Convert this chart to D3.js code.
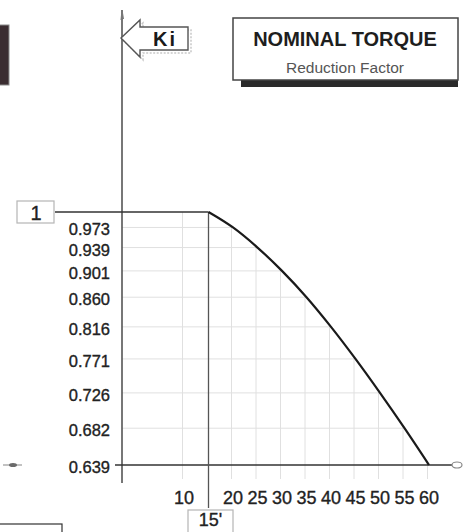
<!DOCTYPE html>
<html>
<head>
<meta charset="utf-8">
<script src="https://cdn.jsdelivr.net/npm/d3@7"></script>
<style>
  html, body { margin: 0; padding: 0; background: #fff; }
  svg { display: block; }
  .num { font-family: "Liberation Sans Narrow", "Arial Narrow", "Liberation Sans", Arial, sans-serif; fill: #222; stroke: #222; stroke-width: 0.35; }
</style>
</head>
<body>
<svg id="chart" width="465" height="532"></svg>
<script>
// Minutes of operation and the matching reduction factor Ki
const minutes = [15, 20, 25, 30, 35, 40, 45, 50, 55, 60];
const ki = [1, 0.973, 0.939, 0.901, 0.860, 0.816, 0.771, 0.726, 0.682, 0.639];
const xTickValues = [10, 20, 25, 30, 35, 40, 45, 50, 55, 60];
const yTickValues = [0.973, 0.939, 0.901, 0.860, 0.816, 0.771, 0.726, 0.682, 0.639];
const yTickLabels = ["0.973", "0.939", "0.901", "0.860", "0.816", "0.771", "0.726", "0.682", "0.639"];
const startMinute = 15;
const topValue = 1;
const titleText = "NOMINAL TORQUE";
const subtitleText = "Reduction Factor";
const axisName = "Ki";

const points = minutes.map((m, i) => ({ m, v: ki[i] }));

const svg = d3.select("#chart");

const x = d3.scaleLinear().domain([15, 60]).range([208.5, 429]);
const y = d3.scaleLog().domain([0.639, 1]).range([465, 212]);

const axisX = 122;
const baseY = y(d3.min(ki));
const topY = y(topValue);

// --- light grid, kept inside the region under the curve ---
const areaPts = [{ px: axisX, v: topValue }]
  .concat(points.map(d => ({ px: x(d.m), v: d.v })));
const area = d3.area()
  .x(d => d.px)
  .y0(baseY + 14)
  .y1(d => y(d.v))
  .curve(d3.curveMonotoneX);

svg.append("clipPath").attr("id", "under")
  .append("path").attr("d", area(areaPts));

const grid = svg.append("g").attr("clip-path", "url(#under)")
  .attr("stroke", "#e0e0e0").attr("stroke-width", 1);
grid.selectAll("line.v").data(xTickValues).join("line")
  .attr("x1", d => x(d) - 1.5).attr("x2", d => x(d) - 1.5)
  .attr("y1", topY).attr("y2", baseY + 14);
grid.selectAll("line.h").data(yTickValues.slice(0, -1)).join("line")
  .attr("x1", axisX).attr("x2", x(60))
  .attr("y1", d => y(d)).attr("y2", d => y(d));

// --- axes and reference lines ---
svg.append("line")
  .attr("x1", axisX).attr("x2", axisX).attr("y1", 10).attr("y2", 483)
  .attr("stroke", "#4a4a4a").attr("stroke-width", 1.5);
svg.append("path")
  .attr("d", `M${axisX - 1},20 L${axisX},10 L${axisX + 1.5},19`)
  .attr("fill", "none").attr("stroke", "#777").attr("stroke-width", 1);

svg.append("line")
  .attr("x1", 115).attr("x2", 453).attr("y1", baseY).attr("y2", baseY)
  .attr("stroke", "#333").attr("stroke-width", 1.5);

svg.append("line")
  .attr("x1", 55).attr("x2", x(startMinute)).attr("y1", topY).attr("y2", topY)
  .attr("stroke", "#333").attr("stroke-width", 1.5);

svg.append("line")
  .attr("x1", x(startMinute)).attr("x2", x(startMinute)).attr("y1", topY).attr("y2", 508)
  .attr("stroke", "#555").attr("stroke-width", 1.3);

// --- reduction curve ---
const line = d3.line()
  .x(d => x(d.m))
  .y(d => y(d.v))
  .curve(d3.curveMonotoneX);
svg.append("path")
  .attr("d", line(points))
  .attr("fill", "none").attr("stroke", "#1a1a1a").attr("stroke-width", 2.2);

// --- tick labels ---
svg.append("g").selectAll("text").data(yTickValues).join("text")
  .attr("class", "num")
  .attr("x", 110).attr("y", d => y(d) + 2)
  .attr("text-anchor", "end").attr("dominant-baseline", "central")
  .attr("font-size", 16.5)
  .text((d, i) => yTickLabels[i]);

svg.append("g").selectAll("text").data(xTickValues).join("text")
  .attr("class", "num")
  .attr("x", d => x(d)).attr("y", 498)
  .attr("text-anchor", "middle").attr("dominant-baseline", "central")
  .attr("font-size", 18)
  .text(d => d);

// --- boxed "1" at the top value ---
svg.append("rect")
  .attr("x", 17).attr("y", topY - 11).attr("width", 37).attr("height", 22)
  .attr("fill", "#fff").attr("stroke", "#b5b5b5").attr("stroke-width", 1.2);
svg.append("text").attr("class", "num")
  .attr("x", 36).attr("y", topY + 1)
  .attr("text-anchor", "middle").attr("dominant-baseline", "central")
  .attr("font-size", 20).text(topValue);

// --- boxed start time ---
svg.append("rect")
  .attr("x", 188).attr("y", 510).attr("width", 45).attr("height", 30)
  .attr("fill", "#fff").attr("stroke", "#b5b5b5").attr("stroke-width", 1.2);
svg.append("text").attr("class", "num")
  .attr("x", x(startMinute) + 2).attr("y", 520)
  .attr("text-anchor", "middle").attr("dominant-baseline", "central")
  .attr("font-size", 18).text(startMinute + "'");

// --- Ki arrow label ---
const arrow = "M121,38 L140,20 L140,27 L188,27 L188,50 L140,50 L140,57 Z";
svg.append("path").attr("d", arrow).attr("transform", "translate(3,3)")
  .attr("fill", "none").attr("stroke", "#c8c8c8").attr("stroke-width", 1.5)
  .attr("stroke-dasharray", "2,1.5");
svg.append("path").attr("d", arrow)
  .attr("fill", "#fff").attr("stroke", "#555").attr("stroke-width", 1.4);
svg.append("text")
  .attr("x", 165).attr("y", 39)
  .attr("text-anchor", "middle").attr("dominant-baseline", "central")
  .attr("font-family", "Liberation Sans, Arial, sans-serif")
  .attr("font-weight", "bold").attr("font-size", 20)
  .attr("letter-spacing", 2).attr("fill", "#1a1a1a")
  .text(axisName);

// --- title box ---
svg.append("rect").attr("x", 241).attr("y", 79).attr("width", 217).attr("height", 8)
  .attr("fill", "#2a2a2a");
svg.append("rect").attr("x", 233).attr("y", 18).attr("width", 225).attr("height", 62)
  .attr("fill", "#fff").attr("stroke", "#444").attr("stroke-width", 1.5);
svg.append("text")
  .attr("x", 345).attr("y", 39)
  .attr("text-anchor", "middle").attr("dominant-baseline", "central")
  .attr("font-family", "Liberation Sans, Arial, sans-serif")
  .attr("font-weight", "bold").attr("font-size", 20).attr("fill", "#1e1e1e")
  .text(titleText);
svg.append("text")
  .attr("x", 345).attr("y", 67)
  .attr("text-anchor", "middle").attr("dominant-baseline", "central")
  .attr("font-family", "Liberation Sans, Arial, sans-serif")
  .attr("font-size", 15.5).attr("fill", "#555")
  .text(subtitleText);

// --- fragments of neighbouring panels at the edges ---
svg.append("rect").attr("x", -2).attr("y", 25).attr("width", 11).attr("height", 60)
  .attr("fill", "#3b2d31").attr("stroke", "#8a8a8a").attr("stroke-width", 1);
svg.append("line").attr("x1", 3).attr("x2", 22).attr("y1", baseY).attr("y2", baseY)
  .attr("stroke", "#9a9a9a").attr("stroke-width", 1.2);
svg.append("ellipse").attr("cx", 13).attr("cy", baseY).attr("rx", 4).attr("ry", 2)
  .attr("fill", "#6a6a6a");
svg.append("ellipse").attr("cx", 457).attr("cy", baseY).attr("rx", 5).attr("ry", 3)
  .attr("fill", "#fff").attr("stroke", "#888").attr("stroke-width", 1.2);
svg.append("rect").attr("x", -2).attr("y", 524).attr("width", 64).attr("height", 20)
  .attr("fill", "#fff").attr("stroke", "#333").attr("stroke-width", 1.2);
</script>
</body>
</html>
